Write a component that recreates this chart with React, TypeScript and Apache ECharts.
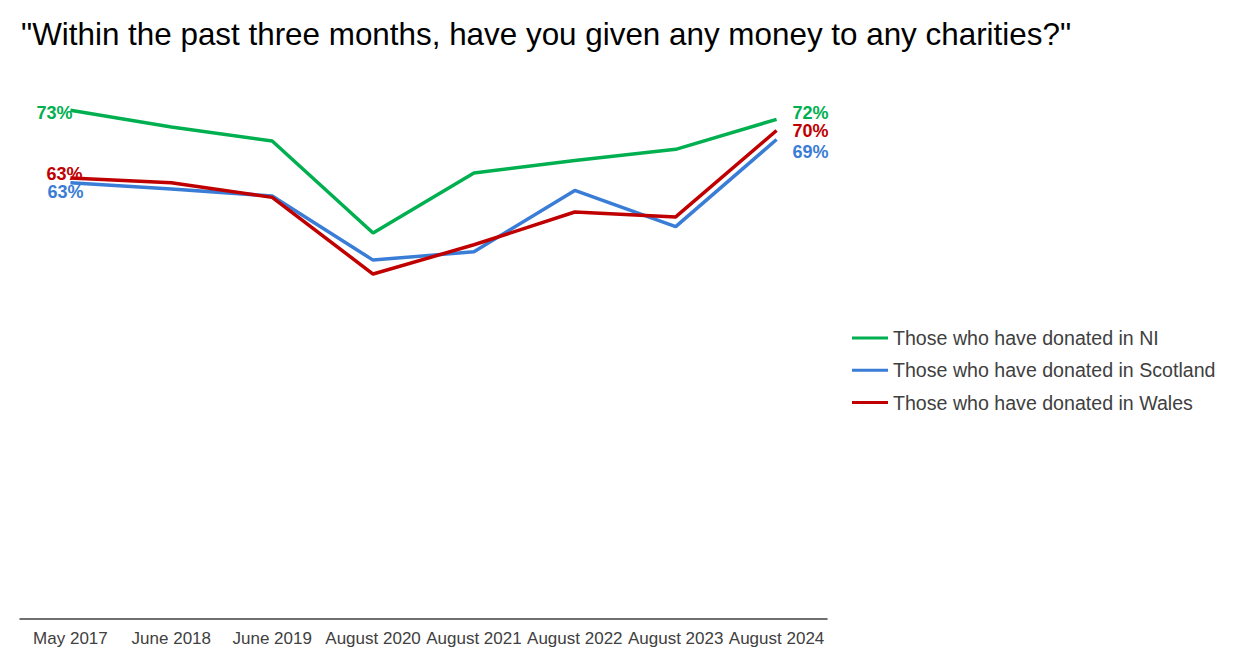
import React, { useEffect, useRef } from "react";
import * as echarts from "echarts";

const categories = ["May 2017", "June 2018", "June 2019", "August 2020", "August 2021", "August 2022", "August 2023", "August 2024"];
const niValues = [73.0, 70.6, 68.6, 55.4, 64.0, 65.8, 67.4, 71.7];
const scotlandValues = [62.6, 61.7, 60.7, 51.5, 52.7, 61.5, 56.3, 68.8];
const walesValues = [63.3, 62.6, 60.5, 49.5, 53.7, 58.4, 57.7, 70.1];
const seriesNames = ["Those who have donated in NI", "Those who have donated in Scotland", "Those who have donated in Wales"];
const colors = ["#00B050", "#3A7DD6", "#C00000"];

const FONT = "Arial, 'Liberation Sans', sans-serif";

function withEndLabels(values: number[], color: string, firstOffset: number[], lastOffset: number[]) {
  return values.map((v, i) => {
    if (i === 0) {
      return {
        value: v,
        label: { show: true, position: "left", distance: 0, offset: firstOffset, formatter: (p: any) => Math.round(p.value) + "%", color, fontSize: 18, fontWeight: "bold", fontFamily: FONT },
      };
    }
    if (i === values.length - 1) {
      return {
        value: v,
        label: { show: true, position: "right", distance: 16, offset: lastOffset, formatter: (p: any) => Math.round(p.value) + "%", color, fontSize: 18, fontWeight: "bold", fontFamily: FONT },
      };
    }
    return v;
  });
}

function lineSeries(name: string, values: number[], color: string, firstOffset: number[], lastOffset: number[], z: number) {
  return {
    name,
    type: "line",
    data: withEndLabels(values, color, firstOffset, lastOffset),
    showSymbol: true,
    symbol: "circle",
    symbolSize: 0,
    lineStyle: { color, width: 3.5 },
    itemStyle: { color },
    z,
  };
}

export default function App() {
  const ref = useRef<HTMLDivElement>(null);
  useEffect(() => {
    if (!ref.current) return;
    const chart = echarts.init(ref.current, null, { renderer: "svg" });
    chart.setOption({
      animation: false,
      backgroundColor: "#ffffff",
      title: {
        text: '"Within the past three months, have you given any money to any charities?"',
        left: 16,
        top: 14,
        textStyle: { fontFamily: FONT, fontSize: 31.4, fontWeight: "normal", color: "#000000" },
      },
      legend: {
        orient: "vertical",
        left: 847,
        top: 323,
        itemWidth: 36,
        itemHeight: 3,
        itemGap: 12.3,
        icon: "rect",
        data: seriesNames,
        textStyle: { fontFamily: FONT, fontSize: 19.6, color: "#404040" },
      },
      grid: { left: 20, right: 1241 - 827, top: 61.5, bottom: 42, containLabel: false },
      xAxis: {
        type: "category",
        data: categories,
        boundaryGap: true,
        axisLine: { lineStyle: { color: "#404040", width: 1.5 } },
        axisTick: { show: false },
        axisLabel: { fontFamily: FONT, fontSize: 17, color: "#404040", margin: 11, interval: 0 },
      },
      yAxis: {
        type: "value",
        min: 0,
        max: 80,
        show: false,
        splitLine: { show: false },
      },
      series: [
        lineSeries(seriesNames[0], niValues, colors[0], [2, 3], [0, -6], 3),
        lineSeries(seriesNames[1], scotlandValues, colors[1], [13, 9], [0, 12], 2),
        lineSeries(seriesNames[2], walesValues, colors[2], [12, -4], [0, 1], 4),
      ],
    });
    return () => chart.dispose();
  }, []);
  return <div ref={ref} style={{ position: "fixed", left: 0, top: 0, width: 1241, height: 661 }} />;
}
